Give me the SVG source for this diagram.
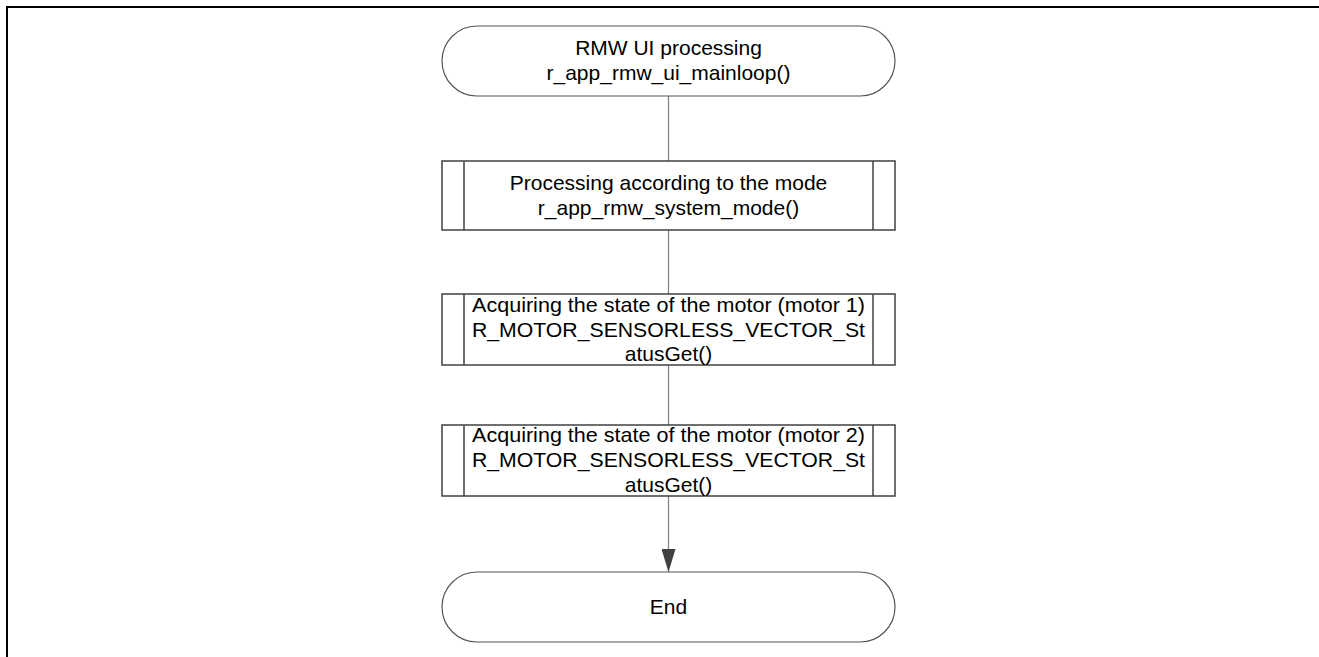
<svg xmlns="http://www.w3.org/2000/svg" width="1319" height="657" viewBox="0 0 1319 657">
<style>
  .term { fill: #ffffff; stroke: #555555; stroke-width: 1.2; }
  .proc { fill: #ffffff; stroke: #404040; stroke-width: 1.5; }
  .conn { fill: none; stroke: #7f7f7f; stroke-width: 1.2; }
  .frame { fill: none; stroke: #000000; stroke-width: 2; }
  text { font-family: "Liberation Sans", Arial, sans-serif; font-size: 21px; fill: #000000; text-anchor: middle; }
</style>
<defs>
  <marker id="arrow" markerWidth="23" markerHeight="14" refX="23" refY="7" orient="auto" markerUnits="userSpaceOnUse" viewBox="0 0 23 14">
    <path d="M0,0 L23,7 L0,14 Z" fill="#404040"/>
  </marker>
</defs>
<path class="frame" d="M7,657 L7,7 L1319,7"/>
<g id="connectors">
  <line class="conn" x1="668.5" y1="96" x2="668.5" y2="161"/>
  <line class="conn" x1="668.5" y1="230" x2="668.5" y2="294"/>
  <line class="conn" x1="668.5" y1="365" x2="668.5" y2="425"/>
  <line class="conn" x1="668.5" y1="496" x2="668.5" y2="572" marker-end="url(#arrow)"/>
</g>
<g id="start">
  <rect class="term" x="442" y="26" width="453" height="70" rx="35" ry="35"/>
  <text x="668.5" y="55">RMW UI processing</text>
  <text x="668.5" y="80">r_app_rmw_ui_mainloop()</text>
</g>
<g id="mode">
  <rect class="proc" x="442" y="161" width="453" height="69"/>
  <line class="proc" x1="464" y1="161" x2="464" y2="230"/>
  <line class="proc" x1="873" y1="161" x2="873" y2="230"/>
  <text x="668.5" y="190">Processing according to the mode</text>
  <text x="668.5" y="215">r_app_rmw_system_mode()</text>
</g>
<g id="motor1">
  <rect class="proc" x="442" y="294" width="453" height="71"/>
  <line class="proc" x1="464" y1="294" x2="464" y2="365"/>
  <line class="proc" x1="873" y1="294" x2="873" y2="365"/>
  <text x="668.5" y="311.5" textLength="393" lengthAdjust="spacingAndGlyphs">Acquiring the state of the motor (motor 1)</text>
  <text x="668.5" y="336.5" textLength="393" lengthAdjust="spacingAndGlyphs">R_MOTOR_SENSORLESS_VECTOR_St</text>
  <text x="668.5" y="361">atusGet()</text>
</g>
<g id="motor2">
  <rect class="proc" x="442" y="425" width="453" height="71"/>
  <line class="proc" x1="464" y1="425" x2="464" y2="496"/>
  <line class="proc" x1="873" y1="425" x2="873" y2="496"/>
  <text x="668.5" y="442" textLength="393" lengthAdjust="spacingAndGlyphs">Acquiring the state of the motor (motor 2)</text>
  <text x="668.5" y="467" textLength="393" lengthAdjust="spacingAndGlyphs">R_MOTOR_SENSORLESS_VECTOR_St</text>
  <text x="668.5" y="491.5">atusGet()</text>
</g>
<g id="end">
  <rect class="term" x="442" y="572" width="453" height="70" rx="35" ry="35"/>
  <text x="668.5" y="614">End</text>
</g>
</svg>
